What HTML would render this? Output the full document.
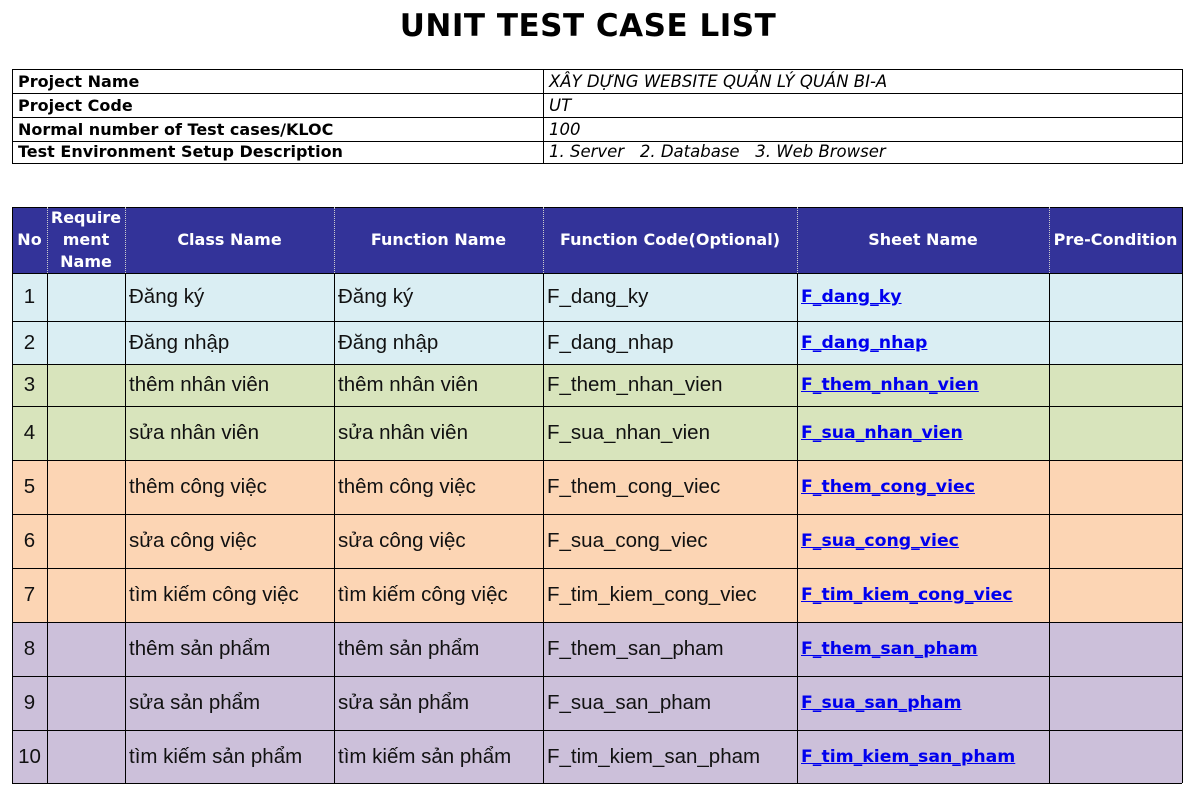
<!DOCTYPE html>
<html><head><meta charset="utf-8"><style>
body{margin:0;width:1193px;height:800px;background:#fff;position:relative;overflow:hidden;font-family:"Liberation Sans",Arial,sans-serif}
.a{position:absolute;box-sizing:border-box}
.t{position:absolute;left:0;width:1176px;top:8px;text-align:center;font-family:"DejaVu Sans",sans-serif;font-weight:bold;font-size:31px;color:#000;letter-spacing:0.5px}
.il{font-family:"DejaVu Sans",sans-serif;font-weight:bold;font-size:16px;line-height:24px;padding-left:5px;white-space:nowrap}
.iv{font-family:"DejaVu Sans",sans-serif;font-style:italic;font-size:16.5px;line-height:24px;padding-left:5px;white-space:nowrap}
.h{background:#333399;color:#fff;font-family:"DejaVu Sans",sans-serif;font-weight:bold;font-size:16px;display:flex;align-items:center;justify-content:center;text-align:center;line-height:22px}
.c{font-size:20.5px;display:flex;align-items:center;padding-left:4px;white-space:nowrap;color:#111}
.n{justify-content:center;padding-left:0}
.l{font-family:"DejaVu Sans",sans-serif;font-weight:bold;color:#0000ee;text-decoration:underline;font-size:17.3px}
</style></head><body>
<div class="t">UNIT TEST CASE LIST</div>
<div class="a" style="left:12px;top:69px;width:1171px;height:95px;border:1px solid #000"></div>
<div class="a" style="left:543px;top:69px;width:1px;height:95px;background:#000"></div>
<div class="a" style="left:12px;top:93px;width:1171px;height:1px;background:#000"></div>
<div class="a" style="left:12px;top:117px;width:1171px;height:1px;background:#000"></div>
<div class="a" style="left:12px;top:141px;width:1171px;height:1px;background:#000"></div>
<div class="a il" style="left:13px;top:70px">Project Name</div>
<div class="a il" style="left:13px;top:94px">Project Code</div>
<div class="a il" style="left:13px;top:118px">Normal number of Test cases/KLOC</div>
<div class="a il" style="left:13px;top:141px;line-height:22px">Test Environment Setup Description</div>
<div class="a iv" style="left:544px;top:70px">XÂY DỰNG WEBSITE QUẢN LÝ QUÁN BI-A</div>
<div class="a iv" style="left:544px;top:94px">UT</div>
<div class="a iv" style="left:544px;top:118px">100</div>
<div class="a iv" style="left:544px;top:141px;line-height:22px;white-space:pre">1. Server   2. Database   3. Web Browser</div>

<div id="tbl"></div>
<script>
var xs=[12,47,125,334,543,797,1049,1182];
var ys=[207,273,321,364,406,460,514,568,622,676,730,783];
var heads=["No","Require<br>ment<br>Name","Class Name","Function Name","Function Code(Optional)","Sheet Name","Pre-Condition"];
var rows=[["Đăng ký","F_dang_ky","#DAEEF3"],["Đăng nhập","F_dang_nhap","#DAEEF3"],["thêm nhân viên","F_them_nhan_vien","#D8E4BC"],["sửa nhân viên","F_sua_nhan_vien","#D8E4BC"],["thêm công việc","F_them_cong_viec","#FCD5B4"],["sửa công việc","F_sua_cong_viec","#FCD5B4"],["tìm kiếm công việc","F_tim_kiem_cong_viec","#FCD5B4"],["thêm sản phẩm","F_them_san_pham","#CCC0DA"],["sửa sản phẩm","F_sua_san_pham","#CCC0DA"],["tìm kiếm sản phẩm","F_tim_kiem_san_pham","#CCC0DA"]];
var h="";
for(var i=0;i<7;i++){h+='<div class="a h" style="left:'+xs[i]+'px;top:'+ys[0]+'px;width:'+(xs[i+1]-xs[i])+'px;height:'+(ys[1]-ys[0])+'px">'+heads[i]+'</div>';}
for(var r=0;r<10;r++){var y=ys[r+1],hh=ys[r+2]-y,R=rows[r];
h+='<div class="a" style="left:12px;top:'+y+'px;width:1170px;height:'+hh+'px;background:'+R[2]+'"></div>';
var v=[String(r+1),"",R[0],R[0],R[1],'<span class="l">'+R[1]+'</span>',""];
for(var i=0;i<7;i++){h+='<div class="a c'+(i==0?' n':'')+'" style="left:'+xs[i]+'px;top:'+y+'px;width:'+(xs[i+1]-xs[i])+'px;height:'+hh+'px">'+v[i]+'</div>';}
h+='<div class="a" style="left:12px;top:'+y+'px;width:1170px;height:1px;background:#000"></div>';}
h+='<div class="a" style="left:12px;top:207px;width:1170px;height:1px;background:#000"></div>';
h+='<div class="a" style="left:12px;top:783px;width:1170px;height:1px;background:#000"></div>';
for(var i=0;i<8;i++){h+='<div class="a" style="left:'+xs[i]+'px;top:273px;width:1px;height:510px;background:#000"></div>';
if(i==0||i==7)h+='<div class="a" style="left:'+xs[i]+'px;top:207px;width:1px;height:66px;background:#000"></div>';
else h+='<div class="a" style="left:'+xs[i]+'px;top:207px;width:1px;height:66px;border-left:1px dotted #ccc"></div>';}
document.getElementById("tbl").innerHTML=h;
</script>
</body></html>
